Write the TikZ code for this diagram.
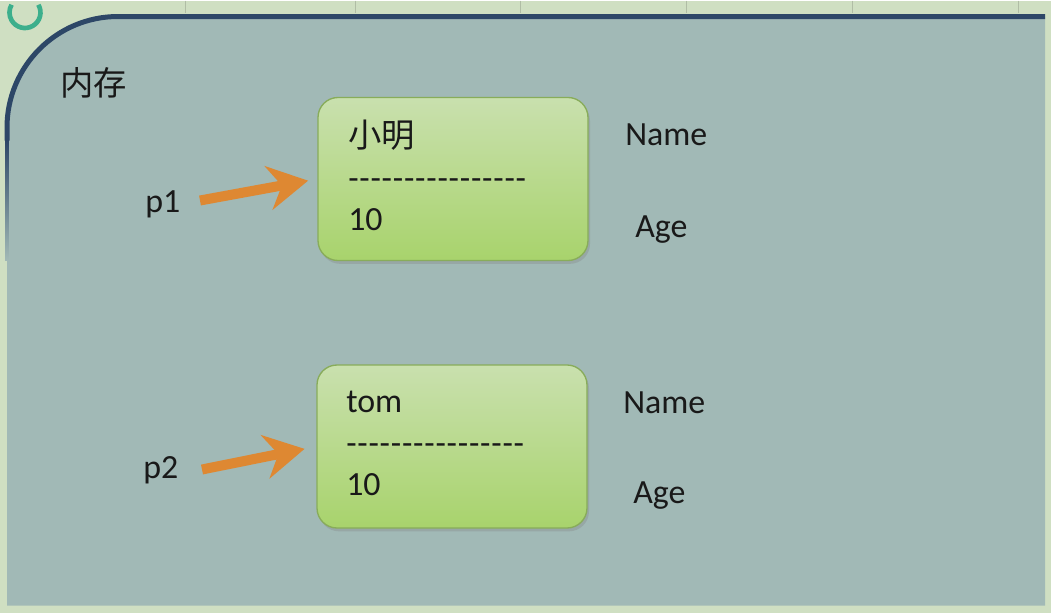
\documentclass[tikz,border=0pt]{standalone}
\usepackage{fontspec}
\setmainfont{Carlito}
\newfontfamily\cjk{Noto Sans CJK SC}
\usetikzlibrary{arrows.meta,shadows}
\definecolor{outerbg}{RGB}{207,223,194}
\definecolor{panel}{RGB}{161,185,182}
\definecolor{frame}{RGB}{45,71,103}
\definecolor{boxtop}{RGB}{201,224,174}
\definecolor{boxbot}{RGB}{168,211,108}
\definecolor{boxline}{RGB}{136,172,90}
\definecolor{arrowc}{RGB}{222,136,50}
\definecolor{ink}{RGB}{25,25,25}
\definecolor{ringc}{RGB}{60,175,140}
\newcommand\hyphenrow{-\kern0.6pt-\kern0.6pt-\kern0.6pt-\kern0.6pt-\kern0.6pt-\kern0.6pt-\kern0.6pt-\kern0.6pt-\kern0.6pt-\kern0.6pt-\kern0.6pt-\kern0.6pt-\kern0.6pt-\kern0.6pt-\kern0.6pt-}
\begin{document}
\begin{tikzpicture}[x=0.75pt,y=-0.75pt,
  lbl/.style={inner sep=0pt, anchor=base west, text=ink, font=\fontsize{25.4}{30}\selectfont},
  cjklbl/.style={inner sep=0pt, anchor=base west, text=ink, font=\fontsize{25}{30}\selectfont\cjk},
  membox/.style={draw=boxline, line width=1pt, rounded corners=15pt,
    minimum width=202.5pt, minimum height=122.25pt,
    top color=boxtop, bottom color=boxbot,
    drop shadow={opacity=0.3, shadow xshift=1.5pt, shadow yshift=-2.5pt}},
  ptr/.style={draw=arrowc, line width=7.5pt,
    -{Stealth[length=30pt,width=33pt,inset=10pt]}}
]
% backgrounds
\fill[outerbg] (0,0) rectangle (1051,612);
\foreach \tx in {185,355,520,686,852,1018}
  \draw[outerbg!85!black, line width=0.75pt] (\tx,0) -- (\tx,12);
\draw[ringc, line width=3.5pt] (38.4,4.25) arc[start angle=-30,end angle=210,radius=15.5];
\fill[panel] (1045,605) -- (7,605) -- (7,127) .. controls (7,65.7) and (56.7,16) .. (118,16) -- (1045,16) -- cycle;
\draw[frame, line width=3.75pt] (7,140) -- (7,127) .. controls (7,65.7) and (56.7,16) .. (118,16) -- (1045,16);
\shade[top color=frame, bottom color=panel] (5.1,139) rectangle (8.9,260);

% title
\node[cjklbl] (mem) at (60,95) {内存};

% boxes
\node[membox] (box1) at (453,178.5) {};
\node[membox] (box2) at (452,446) {};

\node[cjklbl] (n1) at (348,147) {小明};
\node[lbl] (d1) at (348,189) {\hyphenrow};
\node[lbl] (a1) at (348,230) {10};

\node[lbl] (n2) at (346,412) {tom};
\node[lbl] (d2) at (346,454) {\hyphenrow};
\node[lbl] (a2) at (346,495) {10};

% field labels
\node[lbl] (name1) at (625,145) {Name};
\node[lbl] (age1) at (635,237) {Age};
\node[lbl] (name2) at (623,413) {Name};
\node[lbl] (age2) at (633,503) {Age};

% pointers
\node[lbl] (p1) at (145,212) {p1};
\node[lbl] (p2) at (143,478) {p2};
\coordinate (t1) at (200,200);
\coordinate (t2) at (202,469);
\draw[ptr, shorten >=7pt] (t1) -- (box1.west);
\draw[ptr, shorten >=9pt] (t2) -- (box2.west);
\end{tikzpicture}
\end{document}
